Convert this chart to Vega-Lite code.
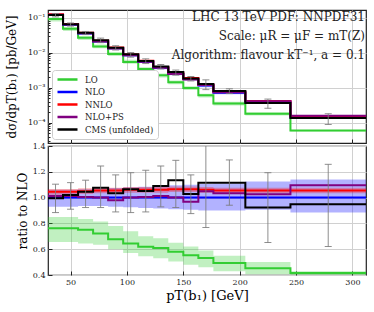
{
"$schema": "https://vega.github.io/schema/vega-lite/v6.json",
"padding": {"left": 4, "top": 9, "right": 8, "bottom": 4},
"background": "white",
"config": {
  "font": "DejaVu Serif",
  "view": {"stroke": "#222", "strokeWidth": 1.2},
  "axis": {"labelFont": "DejaVu Serif", "titleFont": "DejaVu Serif", "labelFontSize": 8, "titleFontSize": 12, "titleFontWeight": "normal", "labelColor": "#222", "titleColor": "#000", "gridColor": "#d0d0d0", "gridWidth": 1, "tickColor": "#222", "tickSize": -4, "tickWidth": 1, "domain": false, "labelPadding": 7, "labelOverlap": false},
  "legend": {"orient": "bottom-left", "offset": 4, "title": null, "symbolType": "M-1,0H4", "symbolSize": 64, "symbolStrokeWidth": 2.5, "labelFont": "DejaVu Serif", "labelFontSize": 8.5, "labelColor": "#222", "rowPadding": 1.5, "padding": 4, "strokeColor": "#cccccc", "fillColor": "white", "cornerRadius": 3, "labelOffset": 18}
},
"data": {"values": [
{"s":"LO","x":30,"v":0.09125,"lo":0.07834,"hi":0.1017,"r":0.763,"rlo":0.655,"rhi":0.85},
{"s":"LO","x":43.33,"v":0.04837,"lo":0.04153,"hi":0.05389,"r":0.763,"rlo":0.655,"rhi":0.85},
{"s":"LO","x":56.67,"v":0.02675,"lo":0.023,"hi":0.02978,"r":0.75,"rlo":0.645,"rhi":0.835},
{"s":"LO","x":70,"v":0.01515,"lo":0.01332,"hi":0.0171,"r":0.722,"rlo":0.635,"rhi":0.815},
{"s":"LO","x":83.33,"v":0.009112,"lo":0.008064,"hi":0.01048,"r":0.678,"rlo":0.6,"rhi":0.78},
{"s":"LO","x":96.67,"v":0.005442,"lo":0.004817,"hi":0.006253,"r":0.644,"rlo":0.57,"rhi":0.74},
{"s":"LO","x":110,"v":0.003413,"lo":0.003005,"hi":0.003859,"r":0.619,"rlo":0.545,"rhi":0.7},
{"s":"LO","x":123.33,"v":0.002251,"lo":0.001959,"hi":0.002532,"r":0.609,"rlo":0.53,"rhi":0.685},
{"s":"LO","x":136.67,"v":0.001436,"lo":0.00125,"hi":0.001609,"r":0.58,"rlo":0.505,"rhi":0.65},
{"s":"LO","x":150,"v":0.000986,"lo":0.0008544,"hi":0.001104,"r":0.554,"rlo":0.48,"rhi":0.62},
{"s":"LO","x":163.33,"v":0.000609,"lo":0.0005276,"hi":0.0006767,"r":0.531,"rlo":0.46,"rhi":0.59},
{"s":"LO","x":176.67,"v":0.0003555,"lo":0.00031,"hi":0.0003966,"r":0.493,"rlo":0.43,"rhi":0.55},
{"s":"LO","x":205,"v":0.0001792,"lo":0.0001606,"hi":0.0001983,"r":0.452,"rlo":0.405,"rhi":0.5},
{"s":"LO","x":245,"v":0.00005947,"lo":0.00005589,"hi":0.00006162,"r":0.415,"rlo":0.39,"rhi":0.43},
{"s":"LO","x":312,"v":0.00005947,"lo":0.00005589,"hi":0.00006162,"r":0.415,"rlo":0.39,"rhi":0.43},
{"s":"NLO","x":30,"v":0.1196,"lo":0.1112,"hi":0.1268,"r":1,"rlo":0.93,"rhi":1.06},
{"s":"NLO","x":43.33,"v":0.0634,"lo":0.05896,"hi":0.0672,"r":1,"rlo":0.93,"rhi":1.06},
{"s":"NLO","x":56.67,"v":0.03566,"lo":0.03334,"hi":0.03798,"r":1,"rlo":0.935,"rhi":1.065},
{"s":"NLO","x":70,"v":0.02098,"lo":0.01962,"hi":0.02245,"r":1,"rlo":0.935,"rhi":1.07},
{"s":"NLO","x":83.33,"v":0.01344,"lo":0.0125,"hi":0.01445,"r":1,"rlo":0.93,"rhi":1.075},
{"s":"NLO","x":96.67,"v":0.00845,"lo":0.007816,"hi":0.009126,"r":1,"rlo":0.925,"rhi":1.08},
{"s":"NLO","x":110,"v":0.005513,"lo":0.005072,"hi":0.005982,"r":1,"rlo":0.92,"rhi":1.085},
{"s":"NLO","x":123.33,"v":0.003697,"lo":0.003383,"hi":0.00403,"r":1,"rlo":0.915,"rhi":1.09},
{"s":"NLO","x":136.67,"v":0.002476,"lo":0.002253,"hi":0.002711,"r":1,"rlo":0.91,"rhi":1.095},
{"s":"NLO","x":150,"v":0.00178,"lo":0.001611,"hi":0.001958,"r":1,"rlo":0.905,"rhi":1.1},
{"s":"NLO","x":163.33,"v":0.001147,"lo":0.001032,"hi":0.001267,"r":1,"rlo":0.9,"rhi":1.105},
{"s":"NLO","x":176.67,"v":0.000721,"lo":0.0006489,"hi":0.0008003,"r":1,"rlo":0.9,"rhi":1.11},
{"s":"NLO","x":205,"v":0.0003965,"lo":0.0003588,"hi":0.0004461,"r":1,"rlo":0.905,"rhi":1.125},
{"s":"NLO","x":245,"v":0.0001433,"lo":0.0001268,"hi":0.0001634,"r":1,"rlo":0.885,"rhi":1.14},
{"s":"NLO","x":312,"v":0.0001433,"lo":0.0001268,"hi":0.0001634,"r":1,"rlo":0.885,"rhi":1.14},
{"s":"NNLO","x":30,"v":0.125,"lo":0.1224,"hi":0.1276,"r":1.045,"rlo":1.023,"rhi":1.067},
{"s":"NNLO","x":43.33,"v":0.06625,"lo":0.06486,"hi":0.06765,"r":1.045,"rlo":1.023,"rhi":1.067},
{"s":"NNLO","x":56.67,"v":0.03744,"lo":0.03666,"hi":0.03823,"r":1.05,"rlo":1.028,"rhi":1.072},
{"s":"NNLO","x":70,"v":0.02213,"lo":0.02167,"hi":0.0226,"r":1.055,"rlo":1.033,"rhi":1.077},
{"s":"NNLO","x":83.33,"v":0.01418,"lo":0.01388,"hi":0.01447,"r":1.055,"rlo":1.033,"rhi":1.077},
{"s":"NNLO","x":96.67,"v":0.008957,"lo":0.008771,"hi":0.009143,"r":1.06,"rlo":1.038,"rhi":1.082},
{"s":"NNLO","x":110,"v":0.005844,"lo":0.005722,"hi":0.005965,"r":1.06,"rlo":1.038,"rhi":1.082},
{"s":"NNLO","x":123.33,"v":0.003919,"lo":0.003837,"hi":0.004,"r":1.06,"rlo":1.038,"rhi":1.082},
{"s":"NNLO","x":136.67,"v":0.002637,"lo":0.002582,"hi":0.002691,"r":1.065,"rlo":1.043,"rhi":1.087},
{"s":"NNLO","x":150,"v":0.001896,"lo":0.001857,"hi":0.001935,"r":1.065,"rlo":1.043,"rhi":1.087},
{"s":"NNLO","x":163.33,"v":0.001216,"lo":0.001191,"hi":0.001241,"r":1.06,"rlo":1.038,"rhi":1.082},
{"s":"NNLO","x":176.67,"v":0.0007607,"lo":0.0007448,"hi":0.0007765,"r":1.055,"rlo":1.033,"rhi":1.077},
{"s":"NNLO","x":205,"v":0.0004183,"lo":0.0004096,"hi":0.000427,"r":1.055,"rlo":1.033,"rhi":1.077},
{"s":"NNLO","x":245,"v":0.0001512,"lo":0.000148,"hi":0.0001543,"r":1.055,"rlo":1.033,"rhi":1.077},
{"s":"NNLO","x":312,"v":0.0001512,"lo":0.000148,"hi":0.0001543,"r":1.055,"rlo":1.033,"rhi":1.077},
{"s":"NLO+PS","x":30,"v":0.1212,"r":1.013},
{"s":"NLO+PS","x":43.33,"v":0.06422,"r":1.013},
{"s":"NLO+PS","x":56.67,"v":0.03584,"r":1.005},
{"s":"NLO+PS","x":70,"v":0.02098,"r":1.0},
{"s":"NLO+PS","x":83.33,"v":0.01317,"r":0.98},
{"s":"NLO+PS","x":96.67,"v":0.00845,"r":1.0},
{"s":"NLO+PS","x":110,"v":0.005541,"r":1.005},
{"s":"NLO+PS","x":123.33,"v":0.003745,"r":1.013},
{"s":"NLO+PS","x":136.67,"v":0.002476,"r":1.0},
{"s":"NLO+PS","x":150,"v":0.001721,"r":0.967},
{"s":"NLO+PS","x":163.33,"v":0.001204,"r":1.05},
{"s":"NLO+PS","x":176.67,"v":0.0007455,"r":1.034},
{"s":"NLO+PS","x":205,"v":0.0004068,"r":1.026},
{"s":"NLO+PS","x":245,"v":0.0001571,"r":1.096},
{"s":"NLO+PS","x":312,"v":0.0001571,"r":1.096},
{"s":"CMS (unfolded)","x":30,"v":0.119,"r":0.995,"xc":36.67,"lo":0.1057,"hi":0.132,"rlo":0.884,"rhi":1.104},
{"s":"CMS (unfolded)","x":43.33,"v":0.0647,"r":1.02,"xc":50,"lo":0.05769,"hi":0.07075,"rlo":0.91,"rhi":1.116},
{"s":"CMS (unfolded)","x":56.67,"v":0.0373,"r":1.046,"xc":63.33,"lo":0.03291,"hi":0.04047,"rlo":0.923,"rhi":1.135},
{"s":"CMS (unfolded)","x":70,"v":0.0226,"r":1.077,"xc":76.67,"lo":0.01936,"hi":0.02612,"rlo":0.923,"rhi":1.245},
{"s":"CMS (unfolded)","x":83.33,"v":0.0139,"r":1.034,"xc":90,"lo":0.01195,"hi":0.01581,"rlo":0.889,"rhi":1.176},
{"s":"CMS (unfolded)","x":96.67,"v":0.009,"r":1.065,"xc":103.33,"lo":0.00747,"hi":0.01008,"rlo":0.884,"rhi":1.193},
{"s":"CMS (unfolded)","x":110,"v":0.0058,"r":1.052,"xc":116.67,"lo":0.004901,"hi":0.006682,"rlo":0.889,"rhi":1.212},
{"s":"CMS (unfolded)","x":123.33,"v":0.00403,"r":1.09,"xc":130,"lo":0.003431,"hi":0.004603,"rlo":0.928,"rhi":1.245},
{"s":"CMS (unfolded)","x":136.67,"v":0.00281,"r":1.135,"xc":143.33,"lo":0.002285,"hi":0.003192,"rlo":0.923,"rhi":1.289},
{"s":"CMS (unfolded)","x":150,"v":0.00183,"r":1.028,"xc":156.67,"lo":0.001559,"hi":0.002093,"rlo":0.876,"rhi":1.176},
{"s":"CMS (unfolded)","x":163.33,"v":0.00128,"r":1.116,"xc":170,"lo":0.000881,"hi":0.001675,"rlo":0.768,"rhi":1.46},
{"s":"CMS (unfolded)","x":176.67,"v":0.000805,"r":1.116,"xc":190.83,"lo":0.0006785,"hi":0.0009315,"rlo":0.941,"rhi":1.292},
{"s":"CMS (unfolded)","x":205,"v":0.000366,"r":0.923,"xc":225,"lo":0.0002585,"hi":0.000473,"rlo":0.652,"rhi":1.193},
{"s":"CMS (unfolded)","x":245,"v":0.000136,"r":0.949,"xc":278.5,"lo":0.000089,"hi":0.0001803,"rlo":0.621,"rhi":1.258},
{"s":"CMS (unfolded)","x":312,"v":0.000136,"r":0.949}
]},
"spacing": 3,
"bounds": "flush",
"resolve": {"legend": {"color": "independent"}},
"vconcat": [
{
  "width": 318, "height": 133,
  "title": {"text": ["LHC 13 TeV PDF: NNPDF31", "Scale: μR = μF = mT(Z)", "Algorithm: flavour kT⁻¹, a = 0.1"], "anchor": "end", "frame": "group", "orient": "top", "offset": -52, "baseline": "top", "align": "right", "fontSize": 12, "fontWeight": "normal", "font": "DejaVu Serif", "lineHeight": 19, "color": "#222", "dx": -1},
  "layer": [
    {"transform": [{"filter": "datum.s==='LO'||datum.s==='NLO'||datum.s==='NNLO'"}],
     "mark": {"type": "area", "interpolate": "step-after", "fillOpacity": 0.3, "clip": true},
     "encoding": {
       "x": {"field": "x", "type": "quantitative", "scale": {"domain": [30, 312], "nice": false, "zero": false}, "axis": {"title": null, "labels": false, "values": [50,100,150,200,250,300], "grid": true}},
       "y": {"field": "lo", "type": "quantitative", "scale": {"type": "log", "domain": [0.0000263, 0.166], "nice": false}, "axis": {"title": "dσ/dpT(b₁) [pb/GeV]", "titlePadding": 9, "values": [0.00003,0.00004,0.00005,0.00006,0.00007,0.00008,0.00009,0.0001,0.0002,0.0003,0.0004,0.0005,0.0006,0.0007,0.0008,0.0009,0.001,0.002,0.003,0.004,0.005,0.006,0.007,0.008,0.009,0.01,0.02,0.03,0.04,0.05,0.06,0.07,0.08,0.09,0.1], "labelExpr": "datum.value==0.1?'10⁻¹':datum.value==0.01?'10⁻²':datum.value==0.001?'10⁻³':datum.value==0.0001?'10⁻⁴':''", "gridOpacity": {"condition": {"test": "indexof([0.1,0.01,0.001,0.0001], datum.value) >= 0", "value": 1}, "value": 0}, "tickSize": {"condition": {"test": "indexof([0.1,0.01,0.001,0.0001], datum.value) >= 0", "value": -4}, "value": -2}}},
       "y2": {"field": "hi"},
       "fill": {"field": "s", "type": "nominal", "scale": {"domain": ["LO","NLO","NNLO"], "range": ["#32cd32","#0000ff","#ff0000"]}, "legend": null}
     }},
    {"transform": [{"filter": "datum.s!=='CMS (unfolded)'"}],
     "mark": {"type": "line", "interpolate": "step-after", "strokeWidth": 2, "clip": true},
     "encoding": {
       "x": {"field": "x", "type": "quantitative"},
       "y": {"field": "v", "type": "quantitative", "axis": {"title": "dσ/dpT(b₁) [pb/GeV]"}},
       "color": {"field": "s", "type": "nominal", "scale": {"domain": ["LO","NLO","NNLO","NLO+PS","CMS (unfolded)"], "range": ["#32cd32","#0000ff","#ff0000","#800080","#000000"]}}
     }},
    {"transform": [{"filter": "datum.s==='CMS (unfolded)'"}],
     "mark": {"type": "line", "interpolate": "step-after", "strokeWidth": 2, "clip": true},
     "encoding": {
       "x": {"field": "x", "type": "quantitative"},
       "y": {"field": "v", "type": "quantitative", "axis": {"title": "dσ/dpT(b₁) [pb/GeV]"}},
       "color": {"field": "s", "type": "nominal"}
     }},
    {"transform": [{"filter": "datum.s==='CMS (unfolded)' && isValid(datum.xc)"}],
     "mark": {"type": "errorbar", "ticks": {"size": 7}, "color": "#7a7a7a", "opacity": 0.85, "clip": true},
     "encoding": {
       "x": {"field": "xc", "type": "quantitative"},
       "y": {"field": "lo", "type": "quantitative", "axis": {"title": "dσ/dpT(b₁) [pb/GeV]"}},
       "y2": {"field": "hi"}
     }}
  ]
},
{
  "width": 318, "height": 129,
  "layer": [
    {"transform": [{"filter": "datum.s==='LO'||datum.s==='NLO'||datum.s==='NNLO'"}],
     "mark": {"type": "area", "interpolate": "step-after", "fillOpacity": 0.3, "clip": true},
     "encoding": {
       "x": {"field": "x", "type": "quantitative", "scale": {"domain": [30, 312], "nice": false, "zero": false}, "axis": {"title": "pT(b₁) [GeV]", "titleFontSize": 13, "titlePadding": 3, "values": [50,100,150,200,250,300], "grid": true}},
       "y": {"field": "rlo", "type": "quantitative", "scale": {"domain": [0.4, 1.4], "nice": false, "zero": false}, "axis": {"title": "ratio to NLO", "titlePadding": 3, "values": [0.4,0.6,0.8,1.0,1.2,1.4], "format": ".1f", "labelOverlap": false, "labelBound": false}},
       "y2": {"field": "rhi"},
       "fill": {"field": "s", "type": "nominal", "scale": {"domain": ["LO","NLO","NNLO"], "range": ["#32cd32","#0000ff","#ff0000"]}, "legend": null}
     }},
    {"transform": [{"filter": "datum.s!=='CMS (unfolded)'"}],
     "mark": {"type": "line", "interpolate": "step-after", "strokeWidth": 2, "clip": true},
     "encoding": {
       "x": {"field": "x", "type": "quantitative", "axis": {"title": "pT(b₁) [GeV]", "titleFontSize": 13, "titlePadding": 3, "values": [50,100,150,200,250,300], "grid": true}},
       "y": {"field": "r", "type": "quantitative", "axis": {"title": "ratio to NLO", "titlePadding": 3, "values": [0.4,0.6,0.8,1.0,1.2,1.4], "format": ".1f", "labelOverlap": false, "labelBound": false}},
       "color": {"field": "s", "type": "nominal", "legend": null}
     }},
    {"transform": [{"filter": "datum.s==='CMS (unfolded)'"}],
     "mark": {"type": "line", "interpolate": "step-after", "strokeWidth": 2, "clip": true},
     "encoding": {
       "x": {"field": "x", "type": "quantitative", "axis": {"title": "pT(b₁) [GeV]", "titleFontSize": 13, "titlePadding": 3, "values": [50,100,150,200,250,300], "grid": true}},
       "y": {"field": "r", "type": "quantitative", "axis": {"title": "ratio to NLO", "titlePadding": 3, "values": [0.4,0.6,0.8,1.0,1.2,1.4], "format": ".1f", "labelOverlap": false, "labelBound": false}},
       "color": {"field": "s", "type": "nominal", "legend": null}
     }},
    {"transform": [{"filter": "datum.s==='CMS (unfolded)' && isValid(datum.xc)"}],
     "mark": {"type": "errorbar", "ticks": {"size": 7}, "color": "#7a7a7a", "opacity": 0.85, "clip": true},
     "encoding": {
       "x": {"field": "xc", "type": "quantitative", "axis": {"title": "pT(b₁) [GeV]", "titleFontSize": 13, "titlePadding": 3, "values": [50,100,150,200,250,300], "grid": true}},
       "y": {"field": "rlo", "type": "quantitative", "axis": {"title": "ratio to NLO", "titlePadding": 3, "values": [0.4,0.6,0.8,1.0,1.2,1.4], "format": ".1f", "labelOverlap": false, "labelBound": false}},
       "y2": {"field": "rhi"}
     }}
  ]
}
]
}
